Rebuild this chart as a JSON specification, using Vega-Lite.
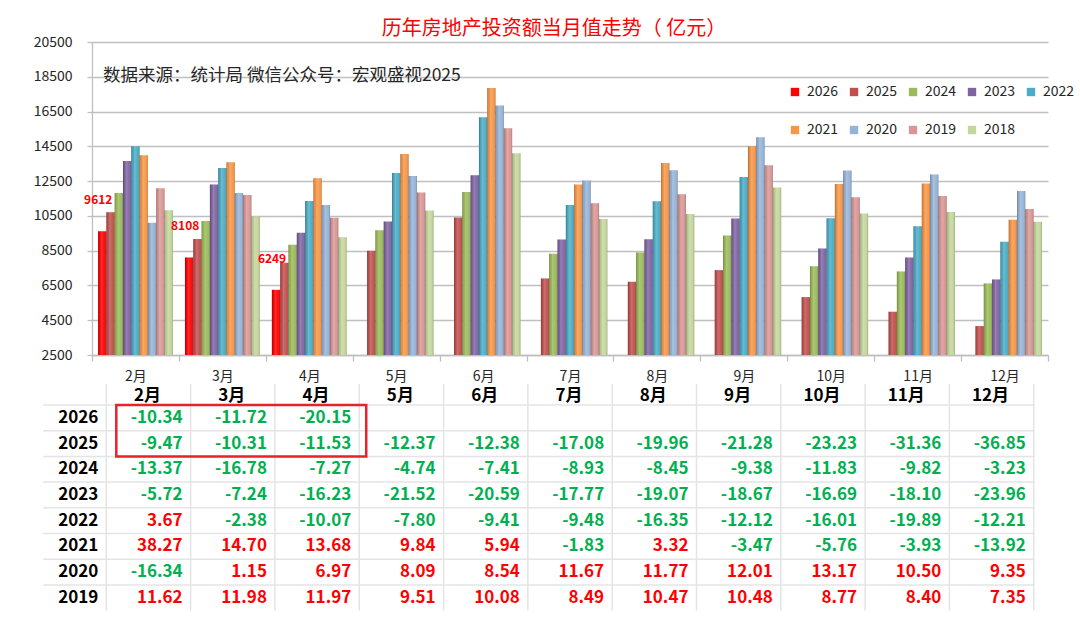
{
  "$schema": "https://vega.github.io/schema/vega-lite/v6.json",
  "padding": {"left": 33, "top": 19, "right": 20, "bottom": 10},
  "title": {"text": "历年房地产投资额当月值走势（ 亿元）", "color": "#FF0000", "fontSize": 20, "fontWeight": "normal", "anchor": "middle", "offset": -4},
  "config": {
    "font": "Noto Sans CJK SC",
    "view": {"stroke": null},
    "locale": {"number": {"decimal": ".", "thousands": ",", "grouping": [3], "currency": ["", ""], "minus": "-"}}
  },
  "spacing": 0,
  "vconcat": [
    {
      "width": 956,
      "height": 313,
      "data": {"values": [
        {"month": "2月", "year": "2026", "value": 9612}, {"month": "2月", "year": "2025", "value": 10710}, {"month": "2月", "year": "2024", "value": 11821}, {"month": "2月", "year": "2023", "value": 13659}, {"month": "2月", "year": "2022", "value": 14500}, {"month": "2月", "year": "2021", "value": 13984}, {"month": "2月", "year": "2020", "value": 10099}, {"month": "2月", "year": "2019", "value": 12089}, {"month": "2月", "year": "2018", "value": 10826},
        {"month": "3月", "year": "2026", "value": 8108}, {"month": "3月", "year": "2025", "value": 9175}, {"month": "3月", "year": "2024", "value": 10213}, {"month": "3月", "year": "2023", "value": 12300}, {"month": "3月", "year": "2022", "value": 13257}, {"month": "3月", "year": "2021", "value": 13582}, {"month": "3月", "year": "2020", "value": 11821}, {"month": "3月", "year": "2019", "value": 11706}, {"month": "3月", "year": "2018", "value": 10462},
        {"month": "4月", "year": "2026", "value": 6249}, {"month": "4月", "year": "2025", "value": 7805}, {"month": "4月", "year": "2024", "value": 8835}, {"month": "4月", "year": "2023", "value": 9524}, {"month": "4月", "year": "2022", "value": 11362}, {"month": "4月", "year": "2021", "value": 12663}, {"month": "4月", "year": "2020", "value": 11132}, {"month": "4月", "year": "2019", "value": 10386}, {"month": "4月", "year": "2018", "value": 9276},
        {"month": "5月", "year": "2025", "value": 8491}, {"month": "5月", "year": "2024", "value": 9678}, {"month": "5月", "year": "2023", "value": 10175}, {"month": "5月", "year": "2022", "value": 12970}, {"month": "5月", "year": "2021", "value": 14061}, {"month": "5月", "year": "2020", "value": 12797}, {"month": "5月", "year": "2019", "value": 11840}, {"month": "5月", "year": "2018", "value": 10807},
        {"month": "6月", "year": "2025", "value": 10405}, {"month": "6月", "year": "2024", "value": 11879}, {"month": "6月", "year": "2023", "value": 12836}, {"month": "6月", "year": "2022", "value": 16166}, {"month": "6月", "year": "2021", "value": 17850}, {"month": "6月", "year": "2020", "value": 16855}, {"month": "6月", "year": "2019", "value": 15534}, {"month": "6月", "year": "2018", "value": 14099},
        {"month": "7月", "year": "2025", "value": 6902}, {"month": "7月", "year": "2024", "value": 8319}, {"month": "7月", "year": "2023", "value": 9142}, {"month": "7月", "year": "2022", "value": 11132}, {"month": "7月", "year": "2021", "value": 12300}, {"month": "7月", "year": "2020", "value": 12529}, {"month": "7月", "year": "2019", "value": 11228}, {"month": "7月", "year": "2018", "value": 10328},
        {"month": "8月", "year": "2025", "value": 6711}, {"month": "8月", "year": "2024", "value": 8395}, {"month": "8月", "year": "2023", "value": 9161}, {"month": "8月", "year": "2022", "value": 11343}, {"month": "8月", "year": "2021", "value": 13544}, {"month": "8月", "year": "2020", "value": 13123}, {"month": "8月", "year": "2019", "value": 11745}, {"month": "8月", "year": "2018", "value": 10615},
        {"month": "9月", "year": "2025", "value": 7381}, {"month": "9月", "year": "2024", "value": 9371}, {"month": "9月", "year": "2023", "value": 10347}, {"month": "9月", "year": "2022", "value": 12740}, {"month": "9月", "year": "2021", "value": 14500}, {"month": "9月", "year": "2020", "value": 15018}, {"month": "9月", "year": "2019", "value": 13410}, {"month": "9月", "year": "2018", "value": 12127},
        {"month": "10月", "year": "2025", "value": 5830}, {"month": "10月", "year": "2024", "value": 7610}, {"month": "10月", "year": "2023", "value": 8625}, {"month": "10月", "year": "2022", "value": 10367}, {"month": "10月", "year": "2021", "value": 12338}, {"month": "10月", "year": "2020", "value": 13104}, {"month": "10月", "year": "2019", "value": 11572}, {"month": "10月", "year": "2018", "value": 10635},
        {"month": "11月", "year": "2025", "value": 4988}, {"month": "11月", "year": "2024", "value": 7304}, {"month": "11月", "year": "2023", "value": 8108}, {"month": "11月", "year": "2022", "value": 9907}, {"month": "11月", "year": "2021", "value": 12357}, {"month": "11月", "year": "2020", "value": 12874}, {"month": "11月", "year": "2019", "value": 11649}, {"month": "11月", "year": "2018", "value": 10730},
        {"month": "12月", "year": "2025", "value": 4165}, {"month": "12月", "year": "2024", "value": 6615}, {"month": "12月", "year": "2023", "value": 6845}, {"month": "12月", "year": "2022", "value": 9008}, {"month": "12月", "year": "2021", "value": 10271}, {"month": "12月", "year": "2020", "value": 11936}, {"month": "12月", "year": "2019", "value": 10902}, {"month": "12月", "year": "2018", "value": 10156}
      ]},
      "layer": [
        {
          "mark": {"type": "bar"},
          "encoding": {
            "x": {"field": "month", "type": "ordinal", "title": null,
                  "scale": {"domain": ["2月","3月","4月","5月","6月","7月","8月","9月","10月","11月","12月"], "paddingInner": 0, "paddingOuter": 0},
                  "axis": {"labelAngle": 0, "labelFontSize": 14, "labelColor": "#262626", "tickBand": "extent", "tickSize": 6, "labelPadding": 8, "grid": false, "domainColor": "#BFBFBF", "tickColor": "#BFBFBF", "domainWidth": 1.3, "tickWidth": 1.3}},
            "xOffset": {"field": "year", "type": "nominal", "scale": {"domain": ["2026","2025","2024","2023","2022","2021","2020","2019","2018"], "paddingInner": 0, "paddingOuter": 0.73}},
            "y": {"field": "value", "type": "quantitative", "title": null,
                  "scale": {"domain": [2500, 20500], "nice": false, "zero": false},
                  "axis": {"values": [2500,4500,6500,8500,10500,12500,14500,16500,18500,20500], "tickCount": 12, "format": "d", "labelOverlap": false, "labelFontSize": 14, "labelColor": "#262626", "labelPadding": 15, "tickSize": 5, "tickColor": "#BFBFBF", "domainColor": "#BFBFBF", "gridColor": "#BFBFBF", "gridWidth": 1.3, "domainWidth": 1.3, "tickWidth": 1.3}},
            "y2": {"datum": 2500},
            "color": {"field": "year", "type": "nominal",
                      "scale": {"domain": ["2026","2025","2024","2023","2022","2021","2020","2019","2018"], "range": ["#FF0000","#C0504D","#9BBB59","#8064A2","#4BACC6","#F79646","#95B3D7","#D99694","#C3D69B"]},
                      "legend": {"orient": "none", "legendX": 696, "legendY": 43, "direction": "horizontal", "columns": 5, "title": null, "symbolType": "square", "symbolSize": 70, "symbolStrokeWidth": 0, "labelFontSize": 14, "labelColor": "#262626", "columnPadding": 8, "rowPadding": 24, "labelOffset": 5, "padding": 0}}
          }
        },
        {
          "mark": {"type": "bar", "fill": {"gradient": "linear", "x1": 0, "x2": 1, "y1": 0, "y2": 0, "stops": [
            {"offset": 0, "color": "rgba(0,0,0,0.35)"},
            {"offset": 0.12, "color": "rgba(0,0,0,0.08)"},
            {"offset": 0.4, "color": "rgba(255,255,255,0.18)"},
            {"offset": 0.75, "color": "rgba(255,255,255,0.04)"},
            {"offset": 1, "color": "rgba(0,0,0,0.22)"}]}},
          "encoding": {
            "x": {"field": "month", "type": "ordinal", "title": null},
            "xOffset": {"field": "year", "type": "nominal"},
            "y": {"field": "value", "type": "quantitative", "title": null},
            "y2": {"datum": 2500}
          }
        },
        {
          "transform": [{"filter": "datum.year == '2026'"}],
          "mark": {"type": "text", "color": "#FF0000", "fontWeight": "bold", "fontSize": 12, "baseline": "middle", "dy": -31, "dx": -4},
          "encoding": {
            "x": {"field": "month", "type": "ordinal", "title": null},
            "xOffset": {"field": "year", "type": "nominal"},
            "y": {"field": "value", "type": "quantitative", "title": null},
            "text": {"field": "value", "type": "quantitative", "format": "d"}
          }
        },
        {
          "data": {"values": [{"note": "数据来源：统计局  微信公众号：宏观盛视2025"}]},
          "mark": {"type": "text", "align": "left", "baseline": "middle", "dx": 11, "fontSize": 17.5, "color": "#262626"},
          "encoding": {
            "x": {"datum": "2月", "bandPosition": 0},
            "y": {"datum": 18550},
            "text": {"field": "note"}
          }
        }
      ]
    },
    {
      "width": 943,
      "height": 205.6,
      "data": {"values": [
        {"year": "2026", "month": "2月", "v": -10.34}, {"year": "2026", "month": "3月", "v": -11.72}, {"year": "2026", "month": "4月", "v": -20.15},
        {"year": "2025", "month": "2月", "v": -9.47}, {"year": "2025", "month": "3月", "v": -10.31}, {"year": "2025", "month": "4月", "v": -11.53}, {"year": "2025", "month": "5月", "v": -12.37}, {"year": "2025", "month": "6月", "v": -12.38}, {"year": "2025", "month": "7月", "v": -17.08}, {"year": "2025", "month": "8月", "v": -19.96}, {"year": "2025", "month": "9月", "v": -21.28}, {"year": "2025", "month": "10月", "v": -23.23}, {"year": "2025", "month": "11月", "v": -31.36}, {"year": "2025", "month": "12月", "v": -36.85},
        {"year": "2024", "month": "2月", "v": -13.37}, {"year": "2024", "month": "3月", "v": -16.78}, {"year": "2024", "month": "4月", "v": -7.27}, {"year": "2024", "month": "5月", "v": -4.74}, {"year": "2024", "month": "6月", "v": -7.41}, {"year": "2024", "month": "7月", "v": -8.93}, {"year": "2024", "month": "8月", "v": -8.45}, {"year": "2024", "month": "9月", "v": -9.38}, {"year": "2024", "month": "10月", "v": -11.83}, {"year": "2024", "month": "11月", "v": -9.82}, {"year": "2024", "month": "12月", "v": -3.23},
        {"year": "2023", "month": "2月", "v": -5.72}, {"year": "2023", "month": "3月", "v": -7.24}, {"year": "2023", "month": "4月", "v": -16.23}, {"year": "2023", "month": "5月", "v": -21.52}, {"year": "2023", "month": "6月", "v": -20.59}, {"year": "2023", "month": "7月", "v": -17.77}, {"year": "2023", "month": "8月", "v": -19.07}, {"year": "2023", "month": "9月", "v": -18.67}, {"year": "2023", "month": "10月", "v": -16.69}, {"year": "2023", "month": "11月", "v": -18.10}, {"year": "2023", "month": "12月", "v": -23.96},
        {"year": "2022", "month": "2月", "v": 3.67}, {"year": "2022", "month": "3月", "v": -2.38}, {"year": "2022", "month": "4月", "v": -10.07}, {"year": "2022", "month": "5月", "v": -7.80}, {"year": "2022", "month": "6月", "v": -9.41}, {"year": "2022", "month": "7月", "v": -9.48}, {"year": "2022", "month": "8月", "v": -16.35}, {"year": "2022", "month": "9月", "v": -12.12}, {"year": "2022", "month": "10月", "v": -16.01}, {"year": "2022", "month": "11月", "v": -19.89}, {"year": "2022", "month": "12月", "v": -12.21},
        {"year": "2021", "month": "2月", "v": 38.27}, {"year": "2021", "month": "3月", "v": 14.70}, {"year": "2021", "month": "4月", "v": 13.68}, {"year": "2021", "month": "5月", "v": 9.84}, {"year": "2021", "month": "6月", "v": 5.94}, {"year": "2021", "month": "7月", "v": -1.83}, {"year": "2021", "month": "8月", "v": 3.32}, {"year": "2021", "month": "9月", "v": -3.47}, {"year": "2021", "month": "10月", "v": -5.76}, {"year": "2021", "month": "11月", "v": -3.93}, {"year": "2021", "month": "12月", "v": -13.92},
        {"year": "2020", "month": "2月", "v": -16.34}, {"year": "2020", "month": "3月", "v": 1.15}, {"year": "2020", "month": "4月", "v": 6.97}, {"year": "2020", "month": "5月", "v": 8.09}, {"year": "2020", "month": "6月", "v": 8.54}, {"year": "2020", "month": "7月", "v": 11.67}, {"year": "2020", "month": "8月", "v": 11.77}, {"year": "2020", "month": "9月", "v": 12.01}, {"year": "2020", "month": "10月", "v": 13.17}, {"year": "2020", "month": "11月", "v": 10.50}, {"year": "2020", "month": "12月", "v": 9.35},
        {"year": "2019", "month": "2月", "v": 11.62}, {"year": "2019", "month": "3月", "v": 11.98}, {"year": "2019", "month": "4月", "v": 11.97}, {"year": "2019", "month": "5月", "v": 9.51}, {"year": "2019", "month": "6月", "v": 10.08}, {"year": "2019", "month": "7月", "v": 8.49}, {"year": "2019", "month": "8月", "v": 10.47}, {"year": "2019", "month": "9月", "v": 10.48}, {"year": "2019", "month": "10月", "v": 8.77}, {"year": "2019", "month": "11月", "v": 8.40}, {"year": "2019", "month": "12月", "v": 7.35}
      ]},
      "layer": [
        {
          "transform": [{"filter": "datum.year == '2025'"}],
          "mark": {"type": "rule", "color": "#E4E4E4", "strokeWidth": 1.5, "yOffset": -21},
          "encoding": {
            "x": {"field": "month", "type": "ordinal", "title": null, "bandPosition": 0, "axis": null,
                  "scale": {"type": "band", "domain": ["2月","3月","4月","5月","6月","7月","8月","9月","10月","11月","12月"], "paddingInner": 0, "paddingOuter": 0.0925, "align": 0.917}},
            "y": {"datum": "2026", "type": "ordinal", "bandPosition": 0, "axis": null,
                  "scale": {"type": "band", "domain": ["2026","2025","2024","2023","2022","2021","2020","2019"], "paddingInner": 0, "paddingOuter": 0}},
            "y2": {"datum": "2019", "bandPosition": 1}
          }
        },
        {
          "transform": [{"filter": "datum.year == '2025' && datum.month == '12月'"}],
          "mark": {"type": "rule", "color": "#E4E4E4", "strokeWidth": 1.5, "yOffset": -21},
          "encoding": {
            "x": {"field": "month", "type": "ordinal", "title": null, "bandPosition": 1, "axis": null},
            "y": {"datum": "2026", "type": "ordinal", "bandPosition": 0, "axis": null},
            "y2": {"datum": "2019", "bandPosition": 1}
          }
        },
        {
          "transform": [{"filter": "datum.month == '2月'"}],
          "mark": {"type": "rule", "color": "#E4E4E4", "strokeWidth": 1.5, "xOffset": -63, "x2Offset": 1},
          "encoding": {
            "x": {"datum": "2月", "type": "ordinal", "bandPosition": 0, "axis": null},
            "x2": {"datum": "12月", "bandPosition": 1},
            "y": {"field": "year", "type": "ordinal", "title": null, "bandPosition": 0, "axis": null}
          }
        },
        {
          "mark": {"type": "text", "align": "right", "baseline": "middle", "dx": -8, "fontSize": 17, "fontWeight": "bold"},
          "encoding": {
            "x": {"field": "month", "type": "ordinal", "title": null, "bandPosition": 1, "axis": null},
            "y": {"field": "year", "type": "ordinal", "title": null, "axis": null},
            "text": {"field": "v", "type": "quantitative", "format": ".2f"},
            "color": {"condition": {"test": "datum.v < 0", "value": "#00B050"}, "value": "#FF0000"}
          }
        },
        {
          "transform": [{"filter": "datum.month == '2月'"}],
          "mark": {"type": "text", "align": "right", "baseline": "middle", "dx": -8, "fontSize": 17, "fontWeight": "bold", "color": "#000000"},
          "encoding": {
            "x": {"field": "month", "type": "ordinal", "title": null, "bandPosition": 0, "axis": null},
            "y": {"field": "year", "type": "ordinal", "title": null, "axis": null},
            "text": {"field": "year"}
          }
        },
        {
          "transform": [{"filter": "datum.year == '2025'"}],
          "mark": {"type": "text", "align": "center", "baseline": "middle", "dy": -9, "dx": -1, "fontSize": 17, "fontWeight": "bold", "color": "#000000"},
          "encoding": {
            "x": {"field": "month", "type": "ordinal", "title": null, "bandPosition": 0.5, "axis": null},
            "y": {"datum": "2026", "type": "ordinal", "bandPosition": 0, "axis": null},
            "text": {"field": "month"}
          }
        },
        {
          "data": {"values": [{"month": "2月", "month_end": "4月", "year": "2026", "year_end": "2025"}]},
          "mark": {"type": "rect", "filled": false, "stroke": "#E8212B", "strokeWidth": 2.5, "xOffset": 10, "x2Offset": 7},
          "encoding": {
            "x": {"field": "month", "type": "ordinal", "title": null, "bandPosition": 0, "axis": null},
            "x2": {"field": "month_end", "bandPosition": 1},
            "y": {"field": "year", "type": "ordinal", "title": null, "bandPosition": 0, "axis": null},
            "y2": {"field": "year_end", "bandPosition": 1}
          }
        }
      ]
    }
  ]
}
